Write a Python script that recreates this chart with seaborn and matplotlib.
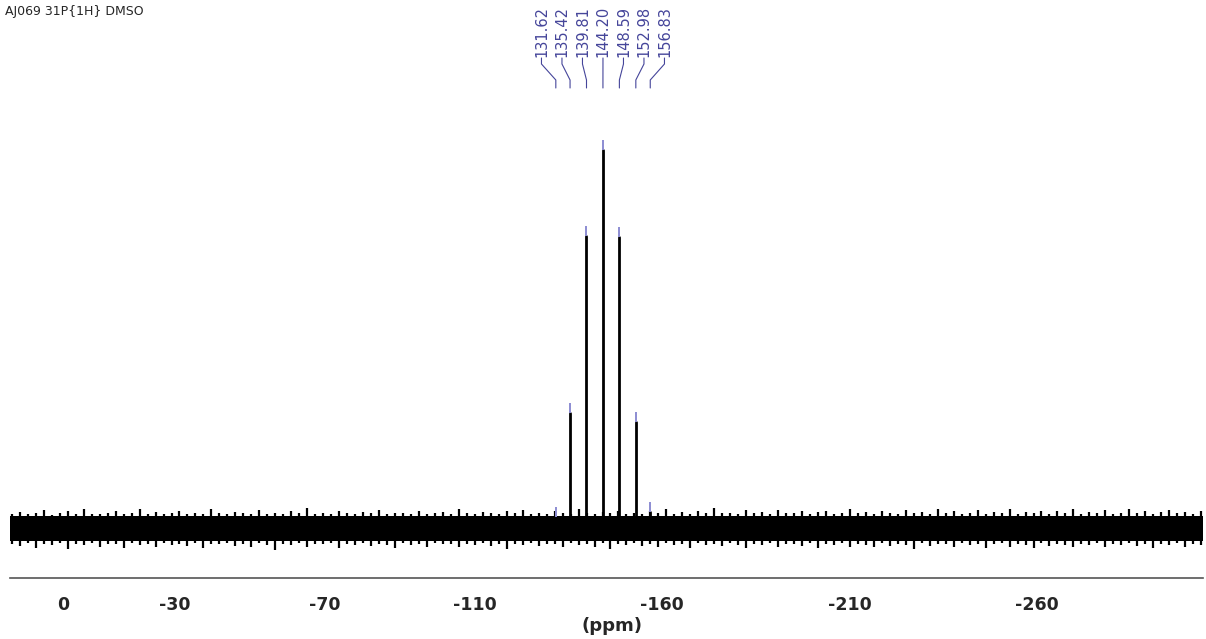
import numpy as np
import pandas as pd
import matplotlib
matplotlib.use("Agg")
import matplotlib.pyplot as plt
import matplotlib.transforms as mtransforms
from matplotlib.ticker import MultipleLocator
import seaborn as sns

# --- spectrum data -------------------------------------------------------
title = "AJ069 31P{1H} DMSO"
peak_labels = ["131.62", "135.42", "139.81", "144.20", "148.59", "152.98", "156.83"]
peak_shift = [-131.62, -135.42, -139.81, -144.20, -148.59, -152.98, -156.83]
peak_height = [3.0, 30.5, 77.3, 100.0, 77.0, 28.1, 4.4]

tick_values = [0, -30, -70, -110, -160, -210, -260]
tick_labels = ["0", "-30", "-70", "-110", "-160", "-210", "-260"]

# baseline noise: typical band half-width and the spikes reaching beyond it
noise_core = 3.4
noise_upper = [3.9, 4.4, 3.7, 4.1, 4.8, 3.6, 4.0, 4.5, 3.8, 5.0, 3.9, 3.7, 4.2, 4.6, 3.8,
               4.1, 5.2, 3.9, 4.3, 3.7, 4.0, 4.7, 3.8, 4.2, 3.9, 5.1, 4.0, 3.7, 4.4, 4.1,
               3.8, 4.8, 3.9, 4.2, 3.7, 4.5, 4.0, 5.4, 3.8, 4.2, 3.9, 4.6, 4.1, 3.8, 4.3,
               4.0, 4.9, 3.8, 4.2, 4.1, 3.9, 4.7, 3.8, 4.1, 4.4, 3.9, 5.0, 4.0, 3.8, 4.3,
               4.1, 3.7, 4.5, 4.0, 4.8, 3.9, 4.2, 3.8, 4.6, 4.0, 3.9, 5.2, 4.1, 3.8, 4.4,
               4.0, 4.7, 3.9, 4.2, 3.8, 4.5, 4.1, 5.0, 3.9, 4.3, 3.8, 4.6, 4.1, 5.3, 4.0,
               4.2, 3.9, 4.8, 4.1, 4.4, 3.8, 4.9, 4.2, 4.0, 4.5, 3.9, 4.3, 4.7, 3.8, 4.1,
               5.1, 4.0, 4.4, 3.9, 4.6, 4.2, 3.8, 4.9, 4.1, 4.3, 3.9, 5.0, 4.0, 4.5, 3.8,
               4.2, 4.8, 3.9, 4.4, 4.1, 5.2, 3.8, 4.3, 4.0, 4.7, 3.9, 4.5, 4.2, 5.0, 3.9,
               4.4, 4.1, 4.8, 3.9, 4.2, 5.1, 4.0, 4.6, 3.8, 4.3, 4.9, 4.0, 4.4, 3.9, 4.7]
noise_lower = [-4.0, -4.6, -3.8, -5.1, -4.1, -4.4, -3.9, -5.5, -4.1, -4.3, -3.8, -4.8, -4.0, -4.2, -5.2,
               -3.9, -4.5, -4.1, -4.9, -3.8, -4.3, -4.0, -4.7, -3.9, -5.3, -4.1, -4.2, -3.8, -4.6, -4.0,
               -5.0, -3.9, -4.3, -5.8, -4.1, -4.4, -3.8, -4.8, -4.0, -4.2, -3.9, -5.1, -4.1, -4.5, -3.8,
               -4.7, -4.0, -4.3, -5.2, -3.9, -4.4, -4.1, -4.8, -3.8, -4.2, -4.0, -4.9, -4.1, -4.5, -3.9,
               -4.6, -4.0, -5.4, -4.1, -4.3, -3.8, -4.7, -4.0, -4.2, -5.0, -3.9, -4.4, -4.1, -4.8, -3.8,
               -5.5, -4.0, -4.3, -3.9, -4.6, -4.1, -4.9, -3.8, -4.4, -4.0, -5.2, -3.9, -4.5, -4.1, -4.7,
               -3.8, -4.3, -5.1, -4.0, -4.4, -3.9, -4.8, -4.1, -4.2, -4.6, -3.9, -5.3, -4.0, -4.5, -3.8,
               -4.9, -4.1, -4.3, -5.0, -3.9, -4.6, -4.0, -4.4, -5.4, -3.8, -4.7, -4.1, -4.2, -4.9, -3.9,
               -4.5, -4.0, -5.1, -4.2, -3.9, -4.8, -4.1, -4.4, -5.2, -3.8, -4.6, -4.0, -4.3, -4.9, -4.1,
               -4.5, -3.9, -5.0, -4.2, -4.4, -3.8, -4.7, -4.0, -5.3, -4.1, -4.3, -3.9, -4.8, -4.2, -4.5]

# --- figure ---------------------------------------------------------------
sns.set_theme(style="white")
plt.rcParams["font.family"] = ["DejaVu Sans"]

W, H = 1206, 639
fig = plt.figure(figsize=(W / 100, H / 100), dpi=100)
ax = fig.add_axes([10 / W, (H - 578) / H, 1193 / W, 578 / H])

x_left, x_right = 14.1, -304.4
ax.set_xlim(x_left, x_right)
ax.set_ylim(-13.1, 139.6)

label_blue = "#45459a"
marker_blue = "#8c8cd2"

# noise band along the whole shift range: solid core plus spikes
ax.axhspan(-noise_core, noise_core, color="black", lw=0)
noise_x = np.linspace(x_left - 0.5, x_right + 0.5, len(noise_upper))
ax.vlines(noise_x, noise_lower, noise_upper, color="black", lw=1.6)

# peaks as sticks from the baseline
peaks = pd.DataFrame({
    "ppm": np.repeat(peak_shift, 2),
    "intensity": np.ravel([[0.0, h] for h in peak_height]),
    "peak": np.repeat(peak_labels, 2),
})
sns.lineplot(data=peaks, x="ppm", y="intensity", units="peak", estimator=None,
             color="black", lw=2.0, sort=False, legend=False, ax=ax)

# small peak-pick markers on top of each peak
ax.vlines(peak_shift, peak_height, np.array(peak_height) + 2.6, color=marker_blue, lw=1.4)

# peak labels with connectors
blend = mtransforms.blended_transform_factory(ax.transData, fig.transFigure)
px_per_ppm = 1193 / (x_left - x_right)
spacing = 20.5 / px_per_ppm
center = float(np.mean(peak_shift))
n = len(peak_labels)
for i, (lab, xs) in enumerate(zip(peak_labels, peak_shift)):
    lx = center + (n - 1) / 2 * spacing - i * spacing
    ax.text(lx, 1 - 57 / H, lab, rotation=90, ha="center", va="bottom",
            fontsize=10.5, color=label_blue, transform=blend)
    ys = [1 - 58 / H, 1 - 64 / H, 1 - 80 / H, 1 - 88 / H]
    ax.plot([lx, lx, xs, xs], ys, color=label_blue, lw=0.8, transform=blend, clip_on=False)

# axis styling
for side in ["left", "right", "top"]:
    ax.spines[side].set_visible(False)
ax.spines["bottom"].set_color("#555555")
ax.spines["bottom"].set_linewidth(1.2)
ax.set_yticks([])
ax.xaxis.set_major_locator(MultipleLocator(10))
ax.xaxis.set_minor_locator(MultipleLocator(5))
ax.xaxis.set_major_formatter(plt.NullFormatter())
ax.tick_params(axis="x", which="major", length=4, width=1, color="#555555", direction="out")
ax.tick_params(axis="x", which="minor", length=2.2, width=1, color="#555555", direction="out")
for v, t in zip(tick_values, tick_labels):
    ax.text(v, 1 - 605 / H, t, ha="center", va="center", fontsize=12.5,
            fontweight="bold", transform=blend)
ax.set_xlabel("")
ax.set_ylabel("")
fig.text(612 / W, 1 - 626 / H, "(ppm)", ha="center", va="center", fontsize=13, fontweight="bold")

fig.text(5 / W, 1 - 11 / H, title, ha="left", va="center", fontsize=9)

fig.savefig("out.png", dpi=100, facecolor="white")
